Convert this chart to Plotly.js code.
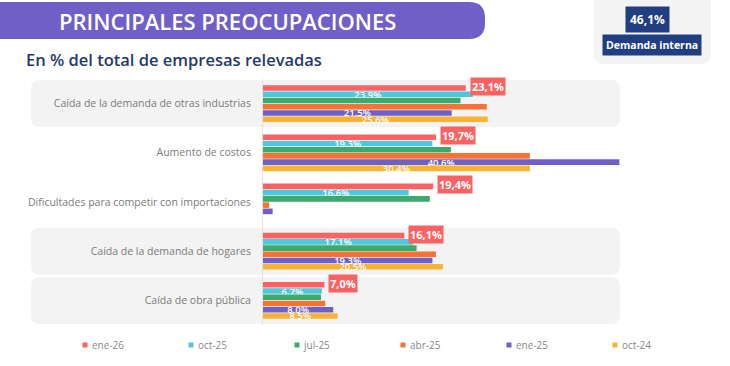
<!DOCTYPE html>
<html>
<head>
<meta charset="utf-8">
<script src="https://cdn.plot.ly/plotly-3.0.1.min.js"></script>
<style>html,body{margin:0;padding:0;background:#fff;}#chart{width:730px;height:366px;}</style>
</head>
<body>
<div id="chart"></div>
<script>
// ---- data ----
const categories = [
  'Caída de la demanda de otras industrias',
  'Aumento de costos',
  'Dificultades para competir con importaciones',
  'Caída de la demanda de hogares',
  'Caída de obra pública'
];
const seriesNames = ['ene-26', 'oct-25', 'jul-25', 'abr-25', 'ene-25', 'oct-24'];
const ene26 = [23.1, 19.7, 19.4, 16.1, 7.0];
const oct25 = [23.9, 19.3, 16.6, 17.1, 6.7];
const jul25 = [22.5, 21.4, 19.0, 17.5, 6.6];
const abr25 = [25.5, 30.4, 0.7, 19.7, 7.1];
const ene25 = [21.5, 40.6, 1.1, 19.3, 8.0];
const oct24 = [25.6, 30.4, null, 20.5, 8.5];
// which points of each series carry an inside label
const labeledOct25 = [true, true, true, true, true];
const labeledEne25 = [true, true, false, true, true];
const labeledOct24 = [true, true, false, true, true];
const headerValue = '46,1%';
const headerLabel = 'Demanda interna';
const titleText = 'PRINCIPALES PREOCUPACIONES';
const subtitleText = 'En % del total de empresas relevadas';
const bandedRows = [0, 3, 4];

// ---- styles ----
const colors = ['#fd6262', '#4fc8de', '#3baa6b', '#f77335', '#6f60c8', '#fab232'];
const FONT = 'Open Sans, sans-serif';
const L = 263, R = 72, T = 79, B = 41;
const W = 730 - L - R, H = 366 - T - B;
const px = p => (p - L) / W;
const py = q => (T + H - q) / H;
const BARGAP = 0.24;

const values = [ene26, oct25, jul25, abr25, ene25, oct24];
const labelFlags = [null, labeledOct25, null, null, labeledEne25, labeledOct24];

const traces = values.map((vals, i) => {
  const t = {
    type: 'bar', orientation: 'h',
    name: seriesNames[i],
    x: vals, y: categories,
    marker: {color: colors[i]},
    hoverinfo: 'x+name'
  };
  if (labelFlags[i]) {
    t.texttemplate = labelFlags[i].map(f => f ? '%{x:.1f}%' : '');
    t.textposition = 'inside';
    t.insidetextanchor = 'middle';
    t.constraintext = 'none';
    t.textfont = {color: '#ffffff', size: 9.5, family: FONT, weight: 600};
    t.cliponaxis = false;
  } else {
    t.textposition = 'none';
  }
  return t;
});

function roundedRect(x0, x1, y0, y1, r) {
  return `M ${x0 + r},${y0} L ${x1 - r},${y0} Q ${x1},${y0} ${x1},${y0 + r} L ${x1},${y1 - r} Q ${x1},${y1} ${x1 - r},${y1} L ${x0 + r},${y1} Q ${x0},${y1} ${x0},${y1 - r} L ${x0},${y0 + r} Q ${x0},${y0} ${x0 + r},${y0} Z`;
}

const shapes = [];
bandedRows.forEach(idx => {
  shapes.push({
    type: 'path', layer: 'below',
    xref: 'paper', yref: 'y',
    xsizemode: 'pixel', ysizemode: 'pixel',
    xanchor: 0, yanchor: idx,
    path: roundedRect(-232, 357, -23.5, 23.5, 9),
    fillcolor: '#f3f3f3', line: {width: 0}
  });
});
// title banner
shapes.push({
  type: 'path', layer: 'below',
  xref: 'paper', yref: 'paper',
  xsizemode: 'pixel', ysizemode: 'pixel',
  xanchor: 0, yanchor: 1,
  path: roundedRect(-290, 222, 40, 77, 16),
  fillcolor: '#6f5fc6', line: {width: 0}
});
// header box
shapes.push({
  type: 'path', layer: 'below',
  xref: 'paper', yref: 'paper',
  xsizemode: 'pixel', ysizemode: 'pixel',
  xanchor: 0, yanchor: 1,
  path: roundedRect(331, 448, 15, 95, 10),
  fillcolor: '#f4f4f4', line: {width: 0}
});

const barW = (1 - BARGAP) / seriesNames.length;
const firstOffset = -(1 - BARGAP) / 2 + barW / 2;

const annotations = ene26.map((v, i) => ({
  x: v, y: i + firstOffset, xref: 'x', yref: 'y',
  text: (v.toFixed(1).replace('.', ',')) + '%',
  showarrow: false, xanchor: 'left', yanchor: 'middle',
  xshift: 4, yshift: 1.5,
  bgcolor: colors[0], borderpad: 1,
  font: {color: '#ffffff', size: 11, family: FONT, weight: 700}
}));

annotations.push({
  xref: 'paper', yref: 'paper', x: px(227), y: py(21),
  text: titleText, showarrow: false, xanchor: 'center', yanchor: 'middle',
  font: {color: '#ffffff', size: 22, family: FONT, weight: 600}
});
annotations.push({
  xref: 'paper', yref: 'paper', x: px(24), y: py(59),
  text: subtitleText, showarrow: false, xanchor: 'left', yanchor: 'middle',
  font: {color: '#26396c', size: 16.5, family: FONT, weight: 600}
});
annotations.push({
  xref: 'paper', yref: 'paper', x: px(647), y: py(19.5),
  text: headerValue, showarrow: false, xanchor: 'center', yanchor: 'middle',
  bgcolor: '#213f80', borderpad: 4,
  font: {color: '#ffffff', size: 12, family: FONT, weight: 700}
});
annotations.push({
  xref: 'paper', yref: 'paper', x: px(652), y: py(45),
  text: headerLabel, showarrow: false, xanchor: 'center', yanchor: 'middle',
  bgcolor: '#213f80', borderpad: 3,
  font: {color: '#ffffff', size: 10.5, family: FONT, weight: 700}
});

const layout = {
  width: 730, height: 366,
  margin: {l: L, r: R, t: T, b: B, pad: 0, autoexpand: false},
  paper_bgcolor: '#ffffff', plot_bgcolor: 'rgba(0,0,0,0)',
  barmode: 'group', bargap: BARGAP, bargroupgap: 0.1,
  separators: ',.',
  font: {family: FONT, color: '#777777'},
  showlegend: true,
  legend: {
    orientation: 'h', xref: 'paper', yref: 'paper',
    x: px(65), y: py(345), xanchor: 'left', yanchor: 'middle',
    entrywidth: 61, entrywidthmode: 'pixels',
    font: {size: 10, color: '#888888', family: FONT},
    itemclick: false, itemdoubleclick: false
  },
  xaxis: {range: [0, 45], visible: false, fixedrange: true},
  yaxis: {
    type: 'category', categoryorder: 'array', categoryarray: categories,
    autorange: 'reversed', showgrid: false, zeroline: false,
    showline: true, linecolor: '#e2e2e2', linewidth: 1,
    ticks: '', ticklabelstandoff: 9,
    tickfont: {size: 10.5, color: '#7a7a7a', family: FONT},
    fixedrange: true
  },
  shapes: shapes,
  annotations: annotations
};

Plotly.newPlot('chart', traces, layout, {displayModeBar: false, staticPlot: true}).then(gd => {
  // compact legend swatches like the reference
  gd.querySelectorAll('.legend .traces').forEach(g => {
    g.querySelectorAll('.legendpoints path').forEach(p => p.setAttribute('d', 'M2.5,2.5H-2.5V-2.5H2.5Z'));
    g.querySelectorAll('.legendtext').forEach(t => {
      t.setAttribute('x', 27);
      t.querySelectorAll('tspan.line').forEach(s => s.setAttribute('x', 27));
    });
  });
});
</script>
</body>
</html>
